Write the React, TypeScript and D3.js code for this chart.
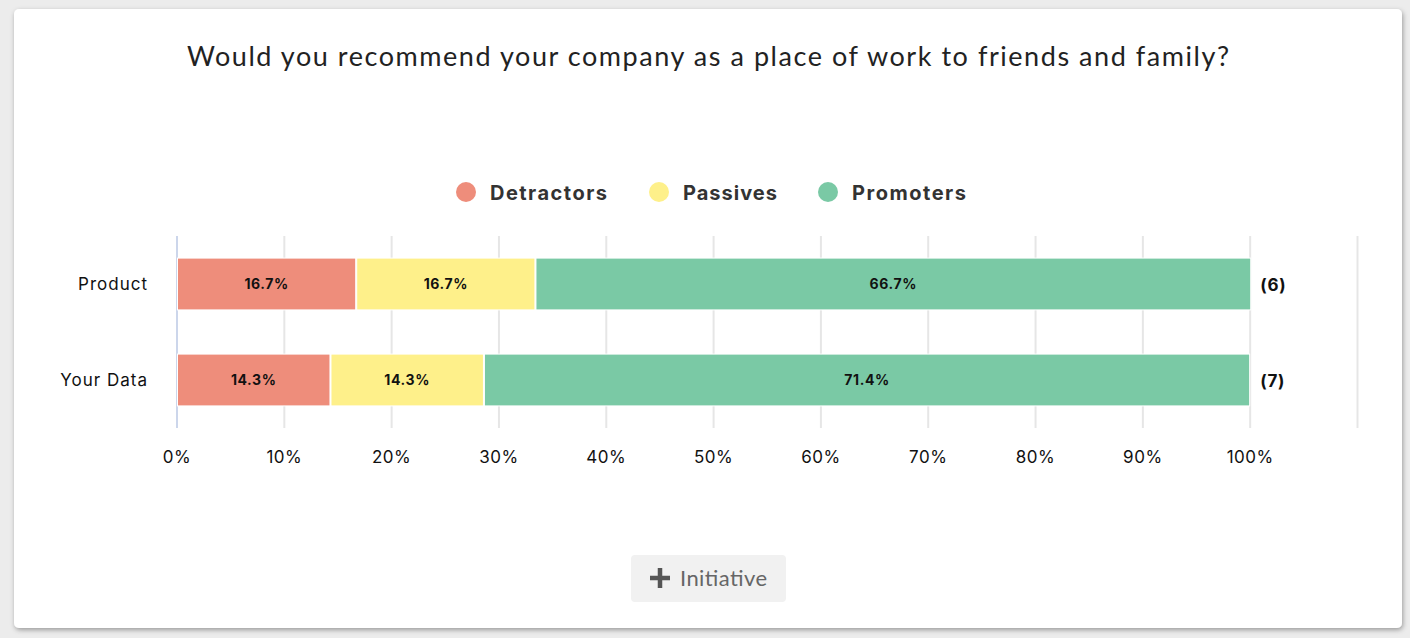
import React from "react";
import * as d3 from "d3";

const categories = ["Product", "Your Data"];
const seriesNames = ["Detractors", "Passives", "Promoters"];
const detractors = [16.7, 14.3];
const passives = [16.7, 14.3];
const promoters = [66.7, 71.4];
const counts = [6, 7];
const tickValues = [0, 10, 20, 30, 40, 50, 60, 70, 80, 90, 100];
const colors = ["#EE8D7B", "#FEF08A", "#7AC9A5"];

const W = 1410;
const H = 638;

export default function App() {
  const x = d3.scaleLinear().domain([0, 110]).range([177, 1357.5]);
  const y = d3.scaleBand().domain(categories).range([236, 428]).paddingInner(0.46).paddingOuter(0.23);
  const series = [detractors, passives, promoters];
  const stacked = categories.map((c, i) => {
    let acc = 0;
    return series.map((s, k) => {
      const x0 = acc;
      acc += s[i];
      return { k, x0, x1: acc, v: s[i] };
    });
  });
  const gridTicks = d3.range(0, 111, 10);
  const legendX = [466, 659, 828];
  const legendW = [117, 94, 114];
  return (
    <svg width={W} height={H} style={{ position: "absolute", left: 0, top: 0 }} fontFamily="Inter, 'Noto Sans', sans-serif">
      <defs>
        <filter id="sh" x="-5%" y="-5%" width="110%" height="115%">
          <feDropShadow dx="1" dy="2" stdDeviation="2.5" floodColor="#000" floodOpacity="0.35" />
        </filter>
      </defs>
      <rect x={0} y={0} width={W} height={H} fill="#ececec" />
      <rect x={14} y={9} width={1388} height={619} rx={5} fill="#fff" filter="url(#sh)" />
      <text x={187} y={66} fontSize={27} fill="#222" fontFamily="Lato, 'Open Sans', sans-serif" fontWeight={400} textLength={1042} lengthAdjust="spacing">
        Would you recommend your company as a place of work to friends and family?
      </text>
      {seriesNames.map((n, i) => (
        <g key={n}>
          <circle cx={legendX[i]} cy={192} r={10} fill={colors[i]} />
          <text x={legendX[i] + 24} y={199.5} fontSize={20} fontWeight={700} fill="#333" textLength={legendW[i]} lengthAdjust="spacing">{n}</text>
        </g>
      ))}
      {gridTicks.map((t) => (
        <line key={t} x1={x(t)} x2={x(t)} y1={236} y2={428} stroke={t === 0 ? "#ccd6eb" : "#e6e6e6"} strokeWidth={2} />
      ))}
      {categories.map((c, i) => (
        <g key={c}>
          <text x={148} y={(y(c) as number) + y.bandwidth() / 2 + 6} textAnchor="end" fontSize={17} letterSpacing={1} fill="#111">{c}</text>
          {stacked[i].map((s) => (
            <g key={s.k}>
              <rect x={x(s.x0) + 0.5} y={y(c) as number} width={x(s.x1) - x(s.x0) - 1} height={y.bandwidth()} fill={colors[s.k]} stroke="#fff" strokeWidth={1} />
              <text x={(x(s.x0) + x(s.x1)) / 2} y={(y(c) as number) + y.bandwidth() / 2 + 5} textAnchor="middle" fontSize={14} letterSpacing={0.6} fontWeight={700} fill="#111">{s.v.toFixed(1)}%</text>
            </g>
          ))}
          <text x={x(100) + 10} y={(y(c) as number) + y.bandwidth() / 2 + 7} fontSize={17} fontWeight={700} letterSpacing={0.8} fill="#111">({counts[i]})</text>
        </g>
      ))}
      {tickValues.map((t) => (
        <text key={t} x={x(t)} y={463} textAnchor="middle" fontSize={17} letterSpacing={0.5} fill="#111">{t}%</text>
      ))}
      <rect x={631} y={555} width={155} height={47} rx={4} fill="#f1f1f1" />
      <path d="M660,568 V588 M650,578 H670" stroke="#555" strokeWidth={4.5} />
      <text x={680} y={586} fontSize={22} fill="#666" fontFamily="Lato, 'Open Sans', sans-serif" textLength={87} lengthAdjust="spacing">Initiative</text>
    </svg>
  );
}
